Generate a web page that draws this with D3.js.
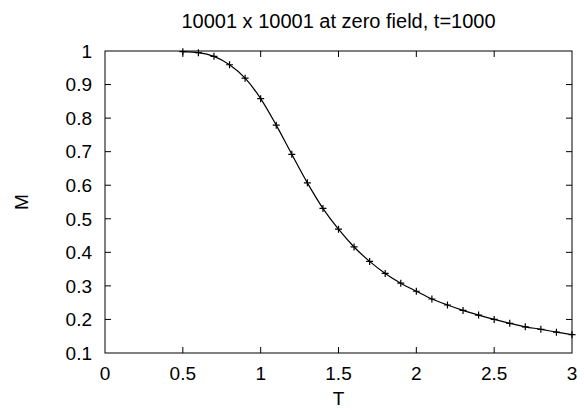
<!DOCTYPE html>
<html><head><meta charset="utf-8">
<script src="https://cdn.jsdelivr.net/npm/d3@7"></script>
<style>
body{margin:0;background:#fff;}
text{font-family:"Liberation Sans",Arial,sans-serif;fill:#000;}
</style></head>
<body><svg id="c" width="584" height="410"></svg>
<script>
const title = "10001 x 10001 at zero field, t=1000";
const xLabel = "T";
const yLabel = "M";
const temps = [0.5,0.6,0.7,0.8,0.9,1.0,1.1,1.2,1.3,1.4,1.5,1.6,1.7,1.8,1.9,2.0,2.1,2.2,2.3,2.4,2.5,2.6,2.7,2.8,2.9,3.0];
const magnet = [0.998,0.995,0.984,0.959,0.919,0.858,0.779,0.692,0.607,0.531,0.469,0.416,0.373,0.337,0.308,0.284,0.261,0.243,0.227,0.213,0.200,0.1885,0.178,0.1706,0.162,0.1545];
const xTicks = [0,0.5,1,1.5,2,2.5,3];
const yTicks = [0.1,0.2,0.3,0.4,0.5,0.6,0.7,0.8,0.9,1];

const L=105, R=572, T=51, B=353, TK=6, FS=19;
const svg = d3.select("#c");
const x = d3.scaleLinear().domain([0,3]).range([L,R]);
const y = d3.scaleLinear().domain([0.1,1]).range([B,T]);

const g = svg.append("g").attr("stroke","#000").attr("stroke-width",1);
xTicks.forEach(v=>{
  if(v===0||v===3) return;
  g.append("line").attr("x1",x(v)).attr("x2",x(v)).attr("y1",B).attr("y2",B-TK);
  g.append("line").attr("x1",x(v)).attr("x2",x(v)).attr("y1",T).attr("y2",T+TK);
});
yTicks.forEach(v=>{
  if(v===0.1||v===1) return;
  g.append("line").attr("x1",L).attr("x2",L+TK).attr("y1",y(v)).attr("y2",y(v));
  g.append("line").attr("x1",R).attr("x2",R-TK).attr("y1",y(v)).attr("y2",y(v));
});
svg.append("rect").attr("x",L).attr("y",T).attr("width",R-L).attr("height",B-T)
  .attr("fill","none").attr("stroke","#000").attr("stroke-width",1);

xTicks.forEach(v=>{
  svg.append("text").attr("x",x(v)).attr("y",380).attr("text-anchor","middle")
    .attr("font-size",FS).text(d3.format("")(v));
});
yTicks.forEach(v=>{
  svg.append("text").attr("x",92).attr("y",y(v)+6.8).attr("text-anchor","end")
    .attr("font-size",FS).text(d3.format("")(v));
});
svg.append("text").attr("x",(L+R)/2).attr("y",27.7).attr("text-anchor","middle")
  .attr("font-size",20).text(title);
svg.append("text").attr("x",(L+R)/2).attr("y",405).attr("text-anchor","middle")
  .attr("font-size",FS).text(xLabel);
svg.append("text").attr("transform","translate(28,202) rotate(-90)").attr("text-anchor","middle")
  .attr("font-size",FS).text(yLabel);

const data = temps.map((t,i)=>({t,m:magnet[i]}));
const line = d3.line().x(d=>x(d.t)).y(d=>y(d.m)).curve(d3.curveMonotoneX);
svg.append("path").datum(data).attr("d",line).attr("fill","none").attr("stroke","#000").attr("stroke-width",1.2);
const s=3.5;
svg.append("g").selectAll("path").data(data).join("path")
  .attr("d",d=>`M${x(d.t)-s},${y(d.m)}H${x(d.t)+s}M${x(d.t)},${y(d.m)-s}V${y(d.m)+s}`)
  .attr("stroke","#000").attr("stroke-width",1.2);
</script></body></html>
